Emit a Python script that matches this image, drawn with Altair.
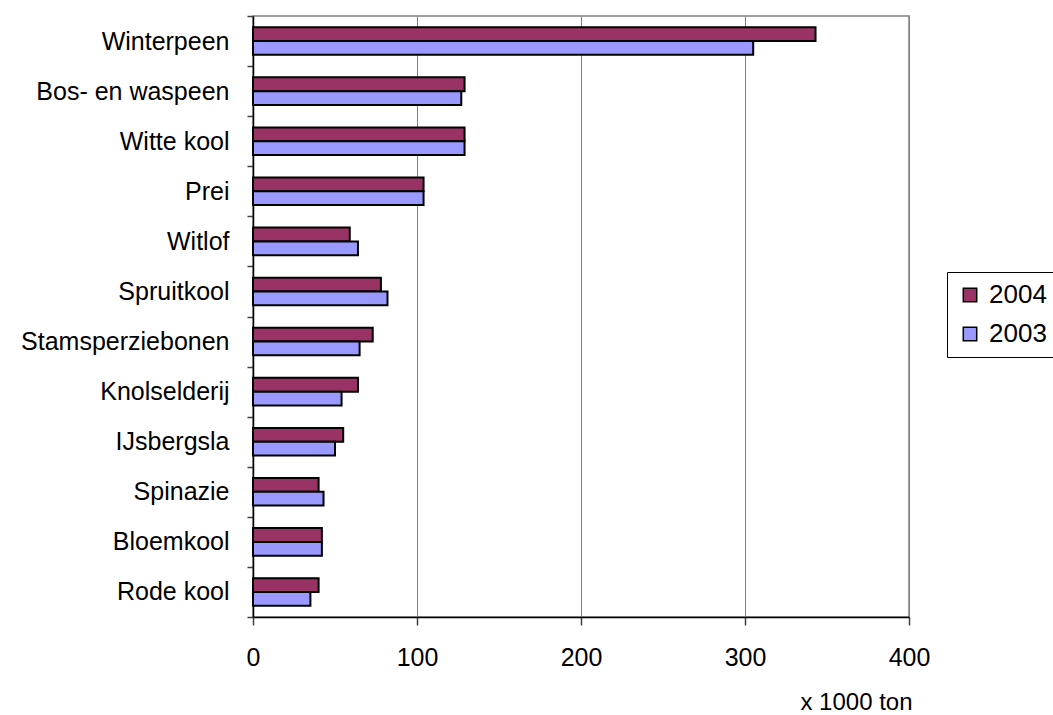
import altair as alt
import pandas as pd

categories = ["Winterpeen", "Bos- en waspeen", "Witte kool", "Prei", "Witlof",
              "Spruitkool", "Stamsperziebonen", "Knolselderij", "IJsbergsla",
              "Spinazie", "Bloemkool", "Rode kool"]
years = ["2004", "2003"]
values_2004 = [343, 129, 129, 104, 59, 78, 73, 64, 55, 40, 42, 40]
values_2003 = [305, 127, 129, 104, 64, 82, 65, 54, 50, 43, 42, 35]
x_ticks = [0, 100, 200, 300, 400]
colors = ["#993366", "#9999FF"]

rows = []
for c, a, b in zip(categories, values_2004, values_2003):
    rows.append({"cat": c, "year": "2004", "value": a})
    rows.append({"cat": c, "year": "2003", "value": b})
df = pd.DataFrame(rows)

FONT = "Liberation Sans"
FS = 25

chart = alt.Chart(df).mark_bar(stroke="black", strokeWidth=2).encode(
    x=alt.X("value:Q",
            scale=alt.Scale(domain=[0, 400], nice=False, zero=True),
            axis=alt.Axis(values=x_ticks, title="x 1000 ton", grid=True,
                          gridColor="#808080", gridWidth=1,
                          domainColor="#000000", domainWidth=1.5,
                          tickColor="#404040", tickSize=8, tickWidth=1.5,
                          labelFont=FONT, labelFontSize=FS, labelColor="black",
                          labelPadding=20, labelFlush=False,
                          titleFont=FONT, titleFontSize=24, titleFontWeight="normal",
                          titleColor="black", titleX=603, titleY=85,
                          titleAlign="center", titleBaseline="middle")),
    y=alt.Y("cat:N", sort=categories,
            scale=alt.Scale(paddingInner=0, paddingOuter=0),
            axis=alt.Axis(title=None, tickBand="extent", grid=False,
                          domainColor="#000000", domainWidth=1.5,
                          tickColor="#404040", tickSize=6, tickWidth=1.5,
                          labelFont=FONT, labelFontSize=FS, labelColor="black",
                          labelPadding=18, labelLimit=300)),
    yOffset=alt.YOffset("year:N", sort=years,
                        scale=alt.Scale(domain=years, paddingInner=0, paddingOuter=0.82)),
    color=alt.Color("year:N",
                    scale=alt.Scale(domain=years, range=colors),
                    legend=alt.Legend(title=None, orient="none", legendX=694, legendY=256,
                                      strokeColor="black", padding=10,
                                      symbolType="square", symbolSize=180,
                                      symbolStrokeColor="black", symbolStrokeWidth=1.5,
                                      labelFont=FONT, labelFontSize=26, labelColor="black",
                                      rowPadding=13, labelOffset=6)),
).properties(
    width=656, height=601,
    autosize=alt.AutoSizeParams(type="none"),
    padding={"left": 253, "top": 16, "right": 144, "bottom": 98},
).configure_view(stroke="#808080", strokeWidth=1.5)

chart.save("out.html", embed_options={"renderer": "svg", "actions": False})
